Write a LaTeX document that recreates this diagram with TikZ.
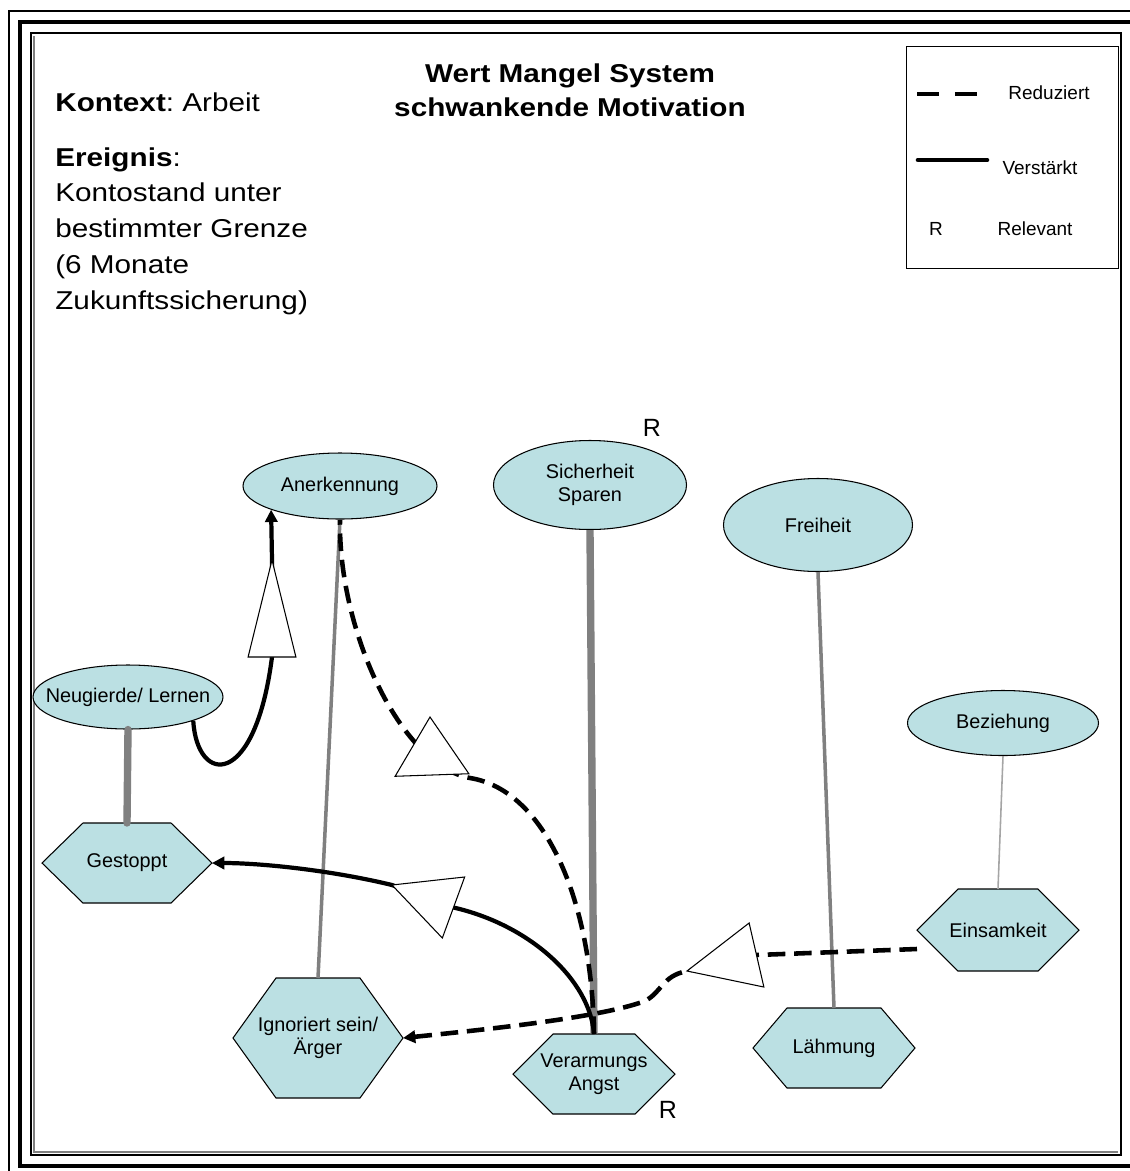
\documentclass[tikz,border=0pt]{standalone}
\usepackage{fontspec}
\setmainfont{Liberation Sans}
\newfontfamily\widefont[FakeStretch=1.15]{Liberation Sans}
\usetikzlibrary{shapes.geometric,arrows.meta,calc}
\frenchspacing

\definecolor{nodefill}{RGB}{187,224,227}
\definecolor{linkgray}{RGB}{128,128,128}
\definecolor{lightlink}{RGB}{165,165,165}

\newcommand\pxl{0.02cm}
\newcommand\valfont{\fontsize{11.3}{13}\selectfont}
\newcommand\legfont{\fontsize{10.8}{13}\selectfont}
\newcommand\ctxfont{\widefont\fontsize{14.7}{20.4}\selectfont}
\newcommand\headfont{\widefont\bfseries\fontsize{14.7}{19.8}\selectfont}
\newcommand\relfont{\fontsize{14.2}{16}\selectfont}

% hexagon: name, x, y, half width, half height, half top edge, text
\newcommand\hexnode[7]{%
  \path[hexline] (#2-#4,#3) -- (#2-#6,#3-#5) -- (#2+#6,#3-#5) -- (#2+#4,#3)
     -- (#2+#6,#3+#5) -- (#2-#6,#3+#5) -- cycle;
  \node[hexlabel, minimum width=2*#4*\pxl, minimum height=2*#5*\pxl] (#1) at (#2,#3) {#7};
}
% open direction marker: base centre, apex, half base width
\newcommand\flowmark[3]{%
  \draw[marker] ($(#1)!#3!90:(#2)$) -- (#2) -- ($(#1)!#3!-90:(#2)$) -- cycle;
}

\begin{document}
\begin{tikzpicture}[x=0.02cm,y=-0.02cm,
  value/.style={ellipse, draw=black, line width=0.6pt, fill=nodefill,
                inner sep=0pt, align=center, font=\valfont},
  hexlabel/.style={rectangle, inner sep=0pt, outer sep=0pt, align=center, font=\valfont},
  hexline/.style={draw=black, line width=0.6pt, fill=nodefill},
  linkthick/.style={draw=linkgray, line width=4.2pt},
  linkmid/.style={draw=linkgray, line width=2pt},
  linkthin/.style={draw=lightlink, line width=0.9pt},
  strong/.style={draw=black, line width=2.4pt},
  weak/.style={draw=black, line width=2.6pt, dash pattern=on 10pt off 5pt},
  tip/.style={-{Triangle[length=7pt,width=7pt]}},
  marker/.style={draw=black, line width=0.6pt, fill=white, solid},
  plain/.style={inner sep=0pt}
]
\useasboundingbox (0,0) rectangle (1130,1171);

% page frame
\draw[line width=0.6pt] (9,1171) -- (9,11) -- (1130,11);
\draw[line width=2.4pt] (1130,22) -- (20,22) -- (20,1166) -- (1130,1166);
\draw[line width=1.5pt] (31,33) rectangle (1121,1155);
\draw[linkgray, line width=0.6pt] (34,36) -- (34,1152) -- (1118,1152);

% heading and context
\node[plain, font=\headfont, align=center, anchor=north] (title) at (570,63)
  {Wert Mangel System\\schwankende Motivation};
\node[plain, font=\ctxfont, anchor=north west] (ctx) at (55,92)
  {\textbf{Kontext}: Arbeit};
\node[plain, font=\ctxfont, align=left, anchor=north west] (evt) at (55,147)
  {\textbf{Ereignis}:\\Kontostand unter\\bestimmter Grenze\\(6 Monate\\Zukunftssicherung)};

% legend
\node[draw=black, line width=0.6pt, minimum width=212*\pxl, minimum height=222*\pxl,
      anchor=north west, inner sep=0pt] (legend) at (906,46) {};
\draw[draw=black, line width=2.8pt, dash pattern=on 12.5pt off 9pt] (917,94) -- (977,94);
\draw[draw=black, line width=2.6pt, line cap=round] (918,160) -- (987,160);
\node[plain, font=\legfont] (legred) at (1049,93) {Reduziert};
\node[plain, font=\legfont] (legver) at (1040,168) {Verstärkt};
\node[plain, font=\legfont] (legr) at (936,229) {R};
\node[plain, font=\legfont] (legrel) at (1035,229) {Relevant};

% values (ellipses)
\node[value, minimum width=194*\pxl, minimum height=66*\pxl] (anerk) at (340,486) {Anerkennung};
\node[value, minimum width=193*\pxl, minimum height=89*\pxl] (sich) at (590,485) {Sicherheit\\Sparen};
\node[value, minimum width=189*\pxl, minimum height=93*\pxl] (frei) at (818,525) {Freiheit};
\node[value, inner xsep=-40*\pxl, minimum width=190*\pxl, minimum height=64*\pxl] (neu) at (128,697) {Neugierde/ Lernen};
\node[value, minimum width=191*\pxl, minimum height=65*\pxl] (bez) at (1003,723) {Beziehung};

% states (hexagons)
\hexnode{gest}{127}{863}{85}{40}{44}{Gestoppt}
\hexnode{ign}{318}{1038}{85}{60}{42}{Ignoriert sein/\\Ärger}
\hexnode{verarm}{594}{1074}{81}{40}{41}{Verarmungs\\Angst}
\hexnode{laehm}{834}{1048}{81}{40}{47}{Lähmung}
\hexnode{eins}{998}{930}{81}{41}{40}{Einsamkeit}

% relevance marks
\node[plain, font=\relfont] (rsich) at (652,428) {R};
\node[plain, font=\relfont] (rver) at (668,1110) {R};

% value -- deficit links
\draw[linkthick, line cap=round] (neu.south) -- (gest.north);
\draw[linkmid] (anerk.south) -- (ign.north);
\draw[linkthick] (sich.south) -- (verarm.north);
\draw[linkmid] (frei.south) -- (laehm.north);
\draw[linkthin] (bez.south) -- (eins.north);

% marker positions (base centre, apex)
\coordinate (t1b) at (272,657);   \coordinate (t1a) at (272,560);
\coordinate (t2b) at (453.5,907.5); \coordinate (t2a) at (392,885);
\coordinate (t3b) at (432,775);   \coordinate (t3a) at (430,717);
\coordinate (t4b) at (756.5,955); \coordinate (t4a) at (687,971);

% reinforcing influences
\draw[strong, tip] (neu.-20) .. controls (197,785) and (255,790) .. (t1b)
  -- (t1a) -- (anerk.199);
\draw[strong, tip] (verarm.north) .. controls (590,980) and (530,925) .. (t2b)
  -- (t2a) .. controls (330,870) and (260,863) .. (gest.east);

% reducing influences
\draw[weak] (verarm.north) .. controls (592,900) and (545,790) .. (470,778)
  .. controls (400,765) and (338,630) .. (anerk.south);
\draw[weak, tip] ($(eins.west)+(0,19)$) -- (t4b) -- (t4a)
  .. controls (662,976) and (662,992) .. (645,1001)
  .. controls (600,1018) and (480,1030) .. (ign.east);

% direction markers
\flowmark{t1b}{t1a}{13.6pt}
\flowmark{t2b}{t2a}{18.5pt}
\flowmark{t3b}{t3a}{21pt}
\flowmark{t4b}{t4a}{18.7pt}
\end{tikzpicture}
\end{document}
